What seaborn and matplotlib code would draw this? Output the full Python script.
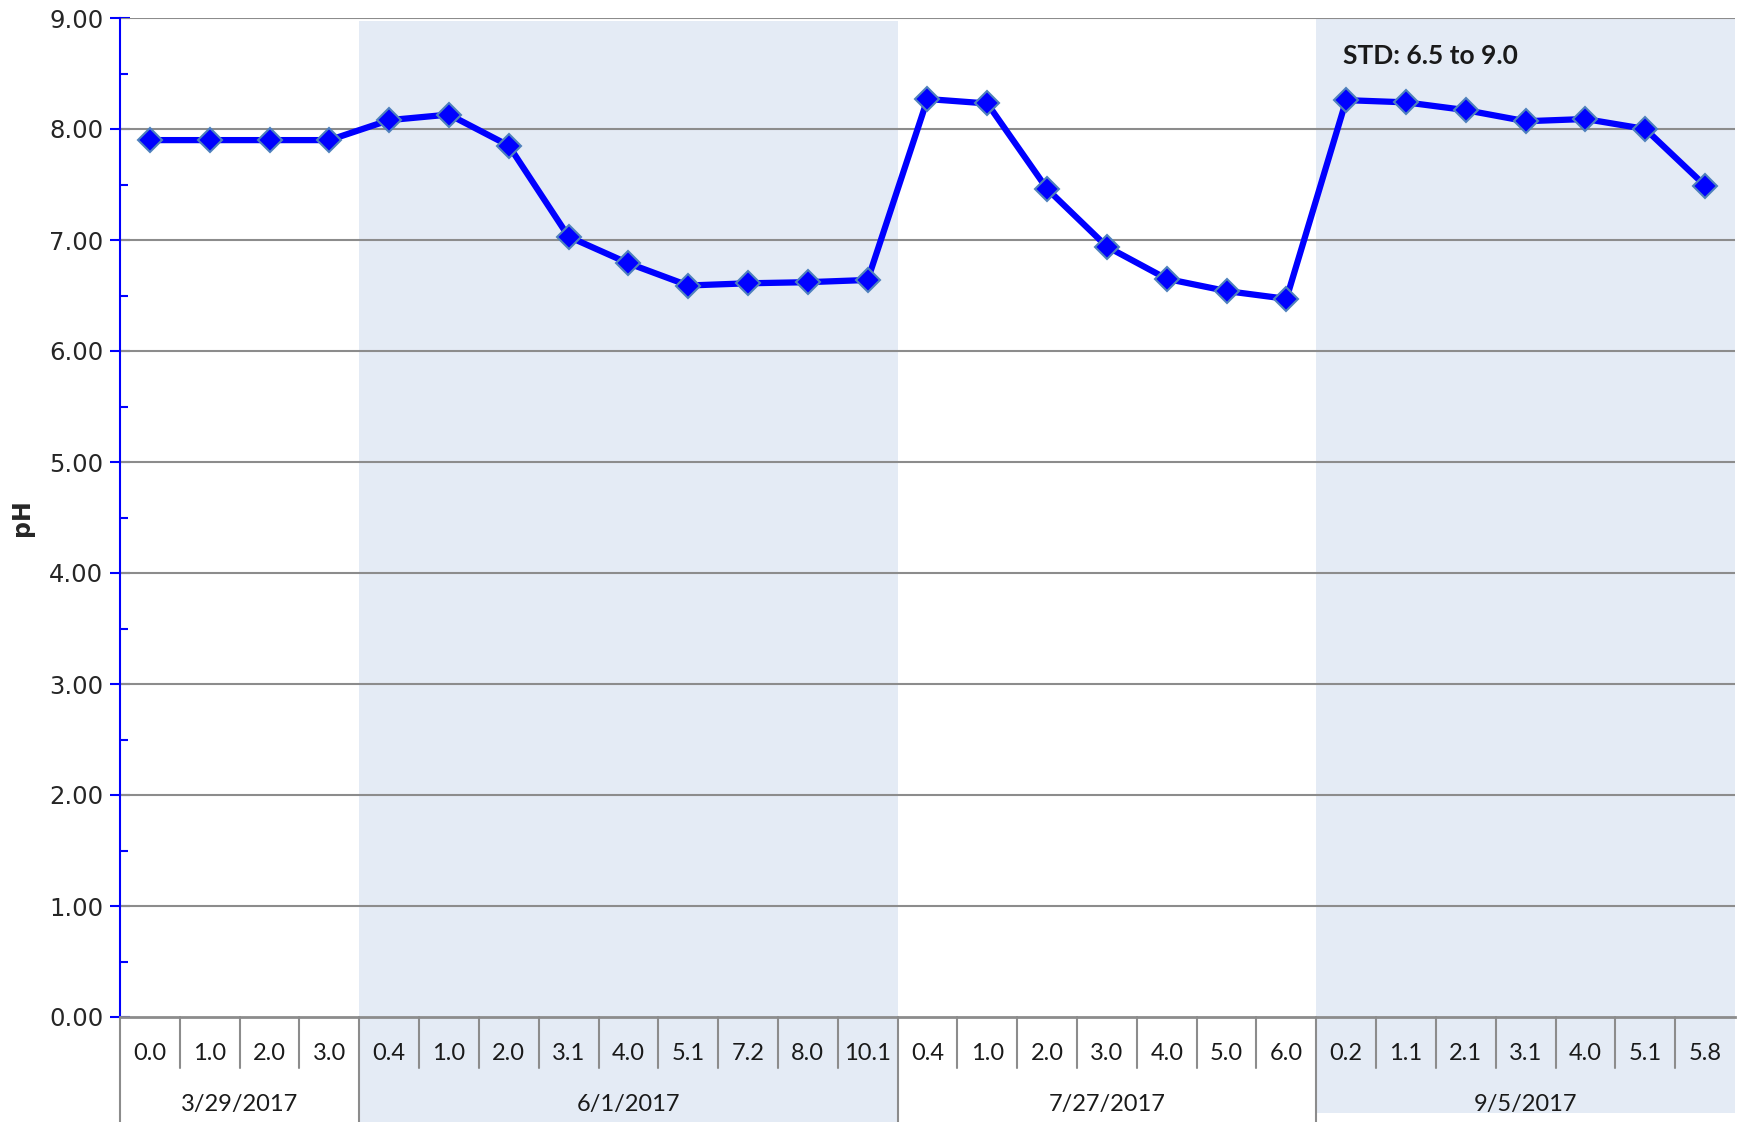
import numpy as np
import pandas as pd
import matplotlib
matplotlib.use("Agg")
import matplotlib.pyplot as plt
import seaborn as sns
from matplotlib.ticker import MultipleLocator, FormatStrFormatter

# Datas de amostragem e profundidades (m)
datas = ['3/29/2017', '6/1/2017', '7/27/2017', '9/5/2017']
prof_0329 = ['0.0', '1.0', '2.0', '3.0']
prof_0601 = ['0.4', '1.0', '2.0', '3.1', '4.0', '5.1', '7.2', '8.0', '10.1']
prof_0727 = ['0.4', '1.0', '2.0', '3.0', '4.0', '5.0', '6.0']
prof_0905 = ['0.2', '1.1', '2.1', '3.1', '4.0', '5.1', '5.8']

ph_0329 = [7.90, 7.90, 7.90, 7.90]
ph_0601 = [8.08, 8.13, 7.85, 7.03, 6.79, 6.59, 6.61, 6.62, 6.64]
ph_0727 = [8.27, 8.23, 7.46, 6.94, 6.65, 6.54, 6.47]
ph_0905 = [8.26, 8.24, 8.17, 8.07, 8.09, 8.00, 7.49]

profs = [prof_0329, prof_0601, prof_0727, prof_0905]
phs = [ph_0329, ph_0601, ph_0727, ph_0905]

linhas = []
for d, p, v in zip(datas, profs, phs):
    for pp, vv in zip(p, v):
        linhas.append({'data': d, 'prof': pp, 'ph': vv})
dados = pd.DataFrame(linhas)
dados['pos'] = np.arange(len(dados))
n = len(dados)

sns.set_style("white")
plt.rcParams['font.family'] = ['DejaVu Sans']

fig = plt.figure(figsize=(17.5, 11.22), dpi=100)
ax = fig.add_axes([120 / 1750, (1122 - 1017) / 1122, (1735 - 120) / 1750, (1017 - 18) / 1122])

ax.set_xlim(-0.5, n - 0.5)
ax.set_ylim(0, 9)
h_px = 1017 - 18

# faixas sombreadas das datas alternadas
banda = '#e4ebf5'
inicio = np.cumsum([0] + [len(p) for p in profs])
ax.axvspan(inicio[1] - 0.5, inicio[2] - 0.5, ymin=-(1122 - 1017) / h_px, ymax=(1017 - 21) / h_px,
           color=banda, clip_on=False, zorder=0, lw=0)
ax.axvspan(inicio[3] - 0.5, inicio[4] - 0.5, ymin=-(1113 - 1017) / h_px, ymax=1.0,
           color=banda, clip_on=False, zorder=0, lw=0)

# grade horizontal
for yv in np.arange(1, 10):
    ax.axhline(yv, color='#8c8c8c', lw=1.5, zorder=1)

sns.lineplot(data=dados, x='pos', y='ph', sort=False, ax=ax, color='#0000ff', lw=4.5,
             marker='D', markersize=12, markerfacecolor='#0000ff',
             markeredgecolor='#4f81bd', markeredgewidth=1.5, zorder=3)

ax.text(inicio[3] - 0.05, 8.66, 'STD: 6.5 to 9.0', fontsize=19, fontweight='bold',
        family=['Lato', 'DejaVu Sans'], color='#1a1a1a', va='center', ha='left')

# eixo y
ax.yaxis.set_major_locator(MultipleLocator(1))
ax.yaxis.set_minor_locator(MultipleLocator(0.5))
ax.yaxis.set_major_formatter(FormatStrFormatter('%.2f'))
ax.tick_params(axis='y', which='major', direction='inout', length=14, width=1.5,
               color='#0000ff', labelsize=17.5, pad=5, left=True)
ax.tick_params(axis='y', which='minor', direction='in', length=6, width=1.5,
               color='#0000ff', left=True)
ax.set_ylabel('pH', fontsize=17, fontweight='bold')
ax.yaxis.set_label_coords(-0.053, 0.5)

# eixo x com rótulos em dois níveis
ax.set_xticks([])
ax.set_xlabel('')
for s in ['top', 'right']:
    ax.spines[s].set_visible(False)
ax.spines['left'].set_color('#0000ff')
ax.spines['left'].set_linewidth(1.5)
ax.spines['bottom'].set_color('#8c8c8c')
ax.spines['bottom'].set_linewidth(2)

trans = ax.get_xaxis_transform()
linha_cor = '#8c8c8c'
y_sub = -(1068 - 1017) / h_px
y_fim = -(1122 - 1017) / h_px
for i in range(n):
    ax.text(i, -(1053 - 1017) / h_px, dados['prof'][i], transform=trans, ha='center', va='center',
            fontsize=17, family=['Lato', 'DejaVu Sans'], color='#1a1a1a')
for i in range(n):
    x0 = i - 0.5
    if x0 in (inicio[:-1] - 0.5):
        ax.plot([x0, x0], [0, y_fim], transform=trans, color=linha_cor, lw=1.5, clip_on=False)
    else:
        ax.plot([x0, x0], [0, y_sub], transform=trans, color=linha_cor, lw=1.5, clip_on=False)
for k, d in enumerate(datas):
    centro = (inicio[k] + inicio[k + 1] - 1) / 2
    ax.text(centro, -(1105 - 1017) / h_px, d, transform=trans, ha='center', va='center',
            fontsize=17, family=['Lato', 'DejaVu Sans'], color='#1a1a1a')

fig.savefig('out.png', dpi=100)
